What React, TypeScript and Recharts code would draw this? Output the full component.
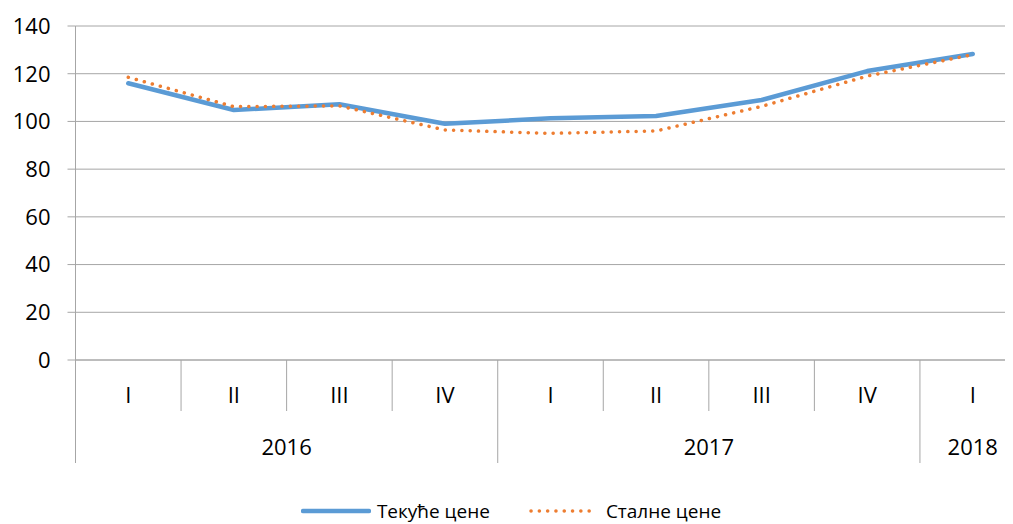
import React from "react";
import { ComposedChart, Line, XAxis, YAxis, CartesianGrid, Legend } from "recharts";

const quarters = ["I", "II", "III", "IV", "I", "II", "III", "IV", "I"];
const years = ["2016", "2017", "2018"];
const yearSpans = [4, 4, 1];
const tekuce = [116, 104.8, 107.2, 99, 101.3, 102.3, 109, 121.1, 128.3];
const stalne = [118.5, 106.2, 106.5, 96.4, 95, 96, 106.3, 119, 128];
const yTicks = [0, 20, 40, 60, 80, 100, 120, 140];
const seriesNames = ["Текуће цене", "Сталне цене"];

const data = quarters.map((q, i) => ({ q, t: tekuce[i], s: stalne[i] }));

const CHART_W = 1030;
const CHART_H = 516;
const MARGIN = { top: 18, right: 12.5, left: 0, bottom: 27 };
const YAXIS_W = 67.5;
const XAXIS_H = 111;
const GRID = "#A6A6A6";
const BLUE = "#5B9BD5";
const ORANGE = "#ED7D31";
const FONT = "'Open Sans', 'Noto Sans', sans-serif";

const plotW = CHART_W - MARGIN.left - MARGIN.right - YAXIS_W;
const bw = plotW / quarters.length;

const groupStarts: number[] = [];
{
  let acc = 0;
  yearSpans.forEach((n) => {
    groupStarts.push(acc);
    acc += n;
  });
}

const textStyle = { fontFamily: FONT, fontSize: 22 };

const QuarterTick = (props: any) => {
  const { x, y, payload } = props;
  const idx = payload.index;
  const gi = groupStarts.indexOf(idx);
  const left = x - bw / 2;
  const isLast = idx === quarters.length - 1;
  return (
    <g>
      <line x1={left} x2={left} y1={y} y2={y + (gi >= 0 ? 103 : 51)} stroke={GRID} strokeWidth={1} />
      {isLast && <line x1={x + bw / 2} x2={x + bw / 2} y1={y} y2={y + 103} stroke={GRID} strokeWidth={1} />}
      <text x={x} y={y + 43} textAnchor="middle" fill="#000" style={textStyle}>
        {payload.value}
      </text>
      {gi >= 0 && (
        <text x={left + (yearSpans[gi] * bw) / 2} y={y + 95} textAnchor="middle" fill="#000" style={textStyle}>
          {years[gi]}
        </text>
      )}
    </g>
  );
};

const LegendContent = () => (
  <div style={{ display: "flex", justifyContent: "center", alignItems: "center", width: 1006, height: 26, fontFamily: FONT, fontSize: 19, color: "#000" }}>
    <svg width={70} height={8} style={{ display: "block" }}>
      <line x1={2} x2={68} y1={4} y2={4} stroke={BLUE} strokeWidth={4.5} strokeLinecap="round" />
    </svg>
    <span style={{ marginLeft: 6, whiteSpace: "nowrap" }}>{seriesNames[0]}</span>
    <svg width={70} height={8} style={{ display: "block", marginLeft: 39 }}>
      <line x1={2} x2={68} y1={4} y2={4} stroke={ORANGE} strokeWidth={3.5} strokeLinecap="round" strokeDasharray="0.1 8.2" />
    </svg>
    <span style={{ marginLeft: 7, whiteSpace: "nowrap" }}>{seriesNames[1]}</span>
  </div>
);

export default function App() {
  return (
    <div style={{ width: 1005, height: CHART_H, overflow: "hidden", position: "relative" }}>
      <ComposedChart width={CHART_W} height={CHART_H} data={data} margin={MARGIN} style={{ fontFamily: FONT }}>
        <CartesianGrid horizontal vertical={false} stroke={GRID} strokeWidth={1} />
        <XAxis
          dataKey="q"
          interval={0}
          height={XAXIS_H}
          padding={{ left: bw / 2, right: bw / 2 }}
          tickSize={0}
          tickMargin={0}
          tickLine={false}
          axisLine={{ stroke: GRID, strokeWidth: 1 }}
          tick={<QuarterTick />}
        />
        <YAxis
          domain={[0, 140]}
          ticks={yTicks}
          width={YAXIS_W}
          tickSize={8}
          tickMargin={17}
          tickLine={{ stroke: GRID, strokeWidth: 1 }}
          axisLine={{ stroke: GRID, strokeWidth: 1 }}
          tick={{ fontSize: 22, fill: "#000", fontFamily: FONT }}
          interval={0}
        />
        <Line
          dataKey="t"
          name={seriesNames[0]}
          stroke={BLUE}
          strokeWidth={4.5}
          dot={false}
          activeDot={false}
          type="linear"
          strokeLinejoin="round"
          strokeLinecap="round"
          isAnimationActive={false}
        />
        <Line
          dataKey="s"
          name={seriesNames[1]}
          stroke={ORANGE}
          strokeWidth={3.5}
          strokeDasharray="0.1 8.2"
          strokeLinecap="round"
          dot={false}
          activeDot={false}
          type="linear"
          isAnimationActive={false}
        />
        <Legend
          verticalAlign="bottom"
          content={<LegendContent />}
          wrapperStyle={{ position: "absolute", top: 490, left: 0, bottom: "auto", width: 1006, height: 26 }}
        />
      </ComposedChart>
    </div>
  );
}
